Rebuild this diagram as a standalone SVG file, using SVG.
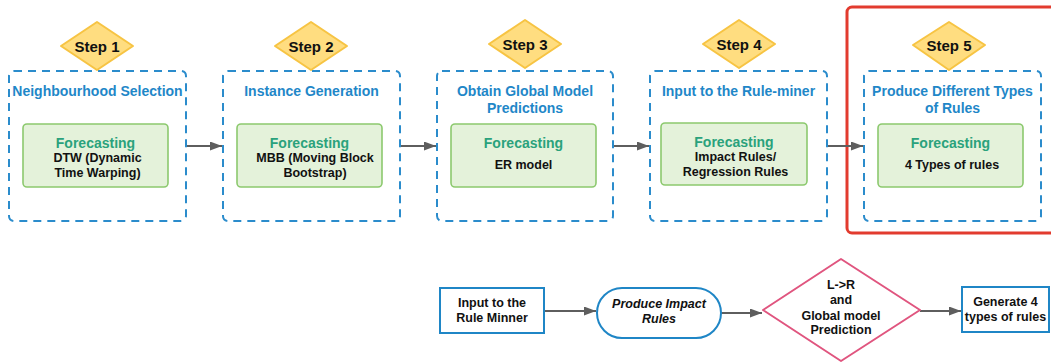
<svg xmlns="http://www.w3.org/2000/svg" width="1051" height="362" viewBox="0 0 1051 362">
  <defs>
    <marker id="arrow" viewBox="0 0 12 9" refX="12" refY="4.5" markerWidth="12" markerHeight="9" markerUnits="userSpaceOnUse" orient="auto">
      <path d="M0,0 L12,4.5 L0,9 z" fill="#5e5e5e"/>
    </marker>
    <style>
      text { font-family: "Liberation Sans", Arial, sans-serif; font-weight: bold; text-anchor: middle; dominant-baseline: central; }
      .step { fill: #ffdd80; stroke: #f7c443; stroke-width: 2; stroke-linejoin: round; }
      .steptxt { font-size: 15px; fill: #111; }
      .stage { fill: #ffffff; stroke: #2b8ccc; stroke-width: 2; stroke-dasharray: 8 6; }
      .title { font-size: 14px; fill: #1f87c8; }
      .green { fill: #e4f2da; stroke: #8cc96e; stroke-width: 1.6; }
      .fc { font-size: 14px; fill: #2aa27c; }
      .body { font-size: 12.5px; fill: #111; }
      .conn { stroke: #5e5e5e; stroke-width: 2; fill: none; marker-end: url(#arrow); }
      .proc { fill: #ffffff; stroke: #1f86c6; stroke-width: 2; }
      .dec { fill: #ffffff; stroke: #e0557f; stroke-width: 2; stroke-linejoin: round; }
    </style>
  </defs>

  <!-- highlight around the final stage -->
  <rect id="highlight" x="847" y="7" width="215" height="226" rx="5" fill="none" stroke="#e23b2e" stroke-width="3"/>

  <!-- connectors -->
  <g id="connectors">
    <line class="conn" x1="187" y1="146" x2="222" y2="146"/>
    <line class="conn" x1="401" y1="146" x2="436" y2="146"/>
    <line class="conn" x1="614" y1="146" x2="649" y2="146"/>
    <line class="conn" x1="828" y1="146" x2="863" y2="146"/>
    <line class="conn" x1="545" y1="311" x2="596" y2="311"/>
    <line class="conn" x1="721" y1="313" x2="762" y2="313"/>
    <line class="conn" x1="920" y1="311" x2="961" y2="311"/>
  </g>

  <!-- stage 1 -->
  <g id="stage1">
    <rect class="stage" x="9" y="71" width="177" height="150" rx="5"/>
    <text class="title" x="97.5" y="91">Neighbourhood Selection</text>
    <rect class="green" x="23" y="124" width="145" height="63" rx="4"/>
    <text class="fc" x="95.5" y="143">Forecasting</text>
    <text class="body" x="97.5" y="157.5">DTW (Dynamic</text>
    <text class="body" x="97.5" y="172.5">Time Warping)</text>
  </g>
  <g id="step1">
    <polygon class="step" points="97,22 133,46 97,70 61,46"/>
    <text class="steptxt" x="97" y="46">Step 1</text>
  </g>

  <!-- stage 2 -->
  <g id="stage2">
    <rect class="stage" x="223" y="71" width="177" height="150" rx="5"/>
    <text class="title" x="311.5" y="91">Instance Generation</text>
    <rect class="green" x="237" y="124" width="145" height="63" rx="4"/>
    <text class="fc" x="309.5" y="143">Forecasting</text>
    <text class="body" x="315" y="157.5">MBB (Moving Block</text>
    <text class="body" x="315" y="172.5">Bootstrap)</text>
  </g>
  <g id="step2">
    <polygon class="step" points="311,22 347,46 311,70 275,46"/>
    <text class="steptxt" x="311" y="46">Step 2</text>
  </g>

  <!-- stage 3 -->
  <g id="stage3">
    <rect class="stage" x="437" y="71" width="176" height="150" rx="5"/>
    <text class="title" x="525" y="91">Obtain Global Model</text>
    <text class="title" x="525" y="108">Predictions</text>
    <rect class="green" x="451" y="124" width="145" height="63" rx="4"/>
    <text class="fc" x="523.5" y="143">Forecasting</text>
    <text class="body" x="523.5" y="165">ER model</text>
  </g>
  <g id="step3">
    <polygon class="step" points="525,20 561,44 525,68 489,44"/>
    <text class="steptxt" x="525" y="44">Step 3</text>
  </g>

  <!-- stage 4 -->
  <g id="stage4">
    <rect class="stage" x="650" y="71" width="177" height="150" rx="5"/>
    <text class="title" x="738.5" y="91">Input to the Rule-miner</text>
    <rect class="green" x="661" y="123" width="146" height="62" rx="4"/>
    <text class="fc" x="734" y="142">Forecasting</text>
    <text class="body" x="735.5" y="157">Impact Rules/</text>
    <text class="body" x="735.5" y="172">Regression Rules</text>
  </g>
  <g id="step4">
    <polygon class="step" points="739,20 775,44 739,68 703,44"/>
    <text class="steptxt" x="739" y="44">Step 4</text>
  </g>

  <!-- stage 5 -->
  <g id="stage5">
    <rect class="stage" x="864" y="71" width="177" height="150" rx="5"/>
    <text class="title" x="952.5" y="91">Produce Different Types</text>
    <text class="title" x="952.5" y="108">of Rules</text>
    <rect class="green" x="878" y="124" width="145" height="63" rx="4"/>
    <text class="fc" x="950.5" y="143">Forecasting</text>
    <text class="body" x="952" y="165">4 Types of rules</text>
  </g>
  <g id="step5">
    <polygon class="step" points="949,22 985,45 949,70 913,45"/>
    <text class="steptxt" x="949" y="45">Step 5</text>
  </g>

  <!-- rule-miner flow -->
  <g id="rule-input">
    <rect class="proc" x="440" y="288" width="104" height="45"/>
    <text class="body" x="492" y="303">Input to the</text>
    <text class="body" x="492" y="318">Rule Minner</text>
  </g>
  <g id="impact-rules">
    <rect class="proc" x="597" y="288" width="124" height="50" rx="25"/>
    <text class="body" x="659" y="304" font-style="italic">Produce Impact</text>
    <text class="body" x="659" y="319" font-style="italic">Rules</text>
  </g>
  <g id="decision">
    <polygon class="dec" points="841,259 920,310 841,361 763,310"/>
    <text class="body" x="841" y="285">L-&gt;R</text>
    <text class="body" x="841" y="300">and</text>
    <text class="body" x="841" y="315.5">Global model</text>
    <text class="body" x="841" y="330">Prediction</text>
  </g>
  <g id="generate">
    <rect class="proc" x="962" y="287" width="87" height="45"/>
    <text class="body" x="1005.5" y="302">Generate 4</text>
    <text class="body" x="1005.5" y="317">types of rules</text>
  </g>
</svg>
